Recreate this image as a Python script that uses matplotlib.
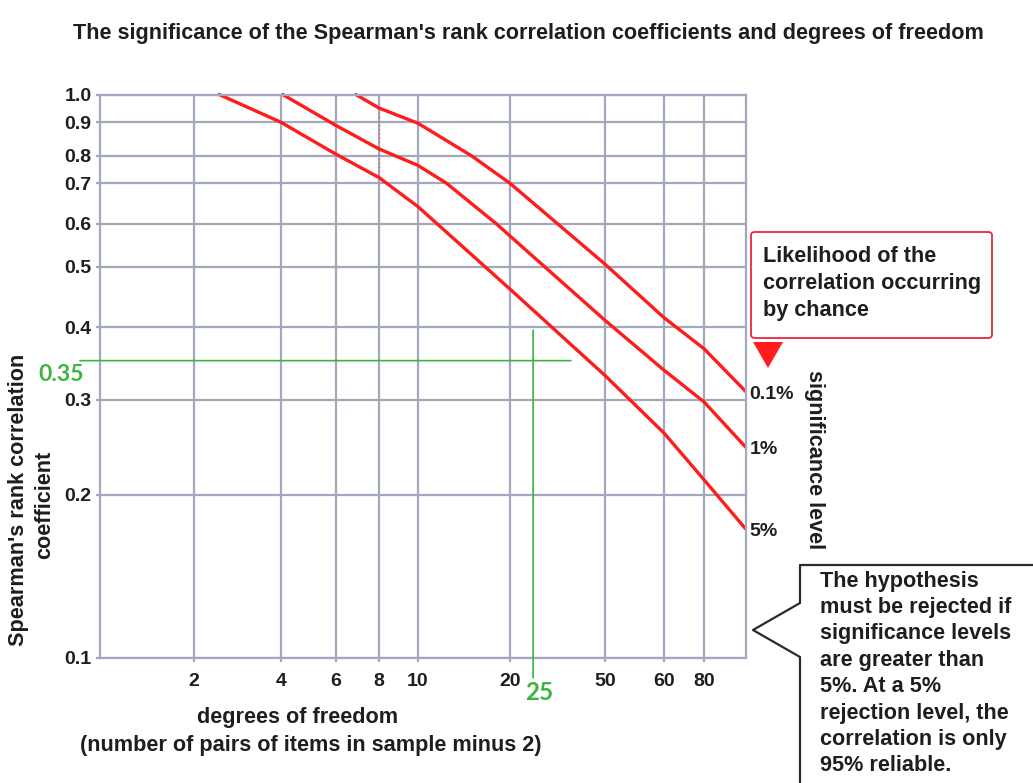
import numpy as np
import matplotlib
matplotlib.use("Agg")
import matplotlib.pyplot as plt
from matplotlib.lines import Line2D
from matplotlib.patches import FancyBboxPatch, Polygon
from matplotlib.ticker import NullLocator

# ---------------- data ----------------
title = "The significance of the Spearman's rank correlation coefficients and degrees of freedom"
x_ticks = [2, 4, 6, 8, 10, 20, 50, 60, 80]
x_tick_labels = ["2", "4", "6", "8", "10", "20", "50", "60", "80"]
x_range = [1, 100]
y_ticks = [0.1, 0.2, 0.3, 0.4, 0.5, 0.6, 0.7, 0.8, 0.9, 1.0]
y_tick_labels = ["0.1", "0.2", "0.3", "0.4", "0.5", "0.6", "0.7", "0.8", "0.9", "1.0"]
y_range = [0.1, 1.0]

series_names = ["0.1%", "1%", "5%"]
dof_01 = [6.85, 8, 10, 15, 20, 50, 60, 80, 100]
r_01 = [1.0, 0.95, 0.897, 0.80, 0.70, 0.505, 0.414, 0.367, 0.31]
dof_1 = [4.05, 6, 8, 10, 12.4, 18, 20, 50, 60, 80, 100]
r_1 = [1.0, 0.89, 0.82, 0.764, 0.70, 0.60, 0.569, 0.41, 0.337, 0.297, 0.245]
dof_5 = [2.45, 4, 6, 8, 10, 20, 50, 60, 80, 100]
r_5 = [1.0, 0.90, 0.805, 0.72, 0.64, 0.46, 0.33, 0.26, 0.213, 0.173]

example_dof = 25
example_r = 0.35

ylabel_lines = ["Spearman's rank correlation", "coefficient"]
xlabel_lines = ["degrees of freedom", "(number of pairs of items in sample minus 2)"]
side_label = "significance level"
box_text = ["Likelihood of the", "correlation occurring", "by chance"]
note_text = ["The hypothesis", "must be rejected if", "significance levels",
             "are greater than", "5%. At a 5%", "rejection level, the",
             "correlation is only", "95% reliable."]

# ---------------- layout: hand-drawn non-uniform axes ----------------
W, H = 1033, 783
X_ANCHOR_VALS = [1, 2, 4, 6, 8, 10, 20, 50, 60, 80, 100]
X_ANCHOR_PX = [100, 193.5, 281, 336, 379, 418, 510, 605, 664, 704, 745.5]
Y_ANCHOR_VALS = [0.1, 0.2, 0.3, 0.4, 0.5, 0.6, 0.7, 0.8, 0.9, 1.0]
Y_ANCHOR_PX = [658, 494.5, 399.5, 327, 266.5, 223.5, 183.3, 156, 122.3, 94.5]


def extrap(v, xs, ys):
    v = np.asarray(v, float)
    xs = np.asarray(xs, float)
    ys = np.asarray(ys, float)
    out = np.interp(v, xs, ys)
    s0 = (ys[1] - ys[0]) / (xs[1] - xs[0])
    s1 = (ys[-1] - ys[-2]) / (xs[-1] - xs[-2])
    out = np.where(v < xs[0], ys[0] + (v - xs[0]) * s0, out)
    out = np.where(v > xs[-1], ys[-1] + (v - xs[-1]) * s1, out)
    return out


def make_scale(vals, px, invert):
    lv = np.log10(np.asarray(vals, float))
    p = np.asarray(px, float)
    if invert:
        p = -p

    def fwd(v):
        v = np.asarray(v, float)
        with np.errstate(all="ignore"):
            lvv = np.log10(np.where(v > 0, v, 1e-12))
        return extrap(lvv, lv, p)

    def inv(q):
        return 10 ** extrap(np.asarray(q, float), p, lv)

    return fwd, inv


def fx(px):
    return px / W


def fy(py):
    return 1 - py / H


plt.rcParams["font.family"] = ["Liberation Sans", "DejaVu Sans"]
plt.rcParams["font.weight"] = "bold"

GRID = "#a3a8bf"
RED = "#ff1c1c"
GREEN = "#3db43d"
TXT = "#1e1e1e"
FS_NUM = 14
FS = 15.6

fig = plt.figure(figsize=(W / 100, H / 100), dpi=100)
fig.patch.set_facecolor("white")
ax = fig.add_axes([fx(X_ANCHOR_PX[0]), fy(Y_ANCHOR_PX[0]),
                   fx(X_ANCHOR_PX[-1]) - fx(X_ANCHOR_PX[0]),
                   fy(Y_ANCHOR_PX[-1]) - fy(Y_ANCHOR_PX[0])])

ax.set_xscale("function", functions=make_scale(X_ANCHOR_VALS, X_ANCHOR_PX, False))
ax.set_yscale("function", functions=make_scale(Y_ANCHOR_VALS, Y_ANCHOR_PX, True))
ax.set_xlim(*x_range)
ax.set_ylim(*y_range)

ax.set_xticks(x_ticks)
ax.set_xticklabels(x_tick_labels)
ax.set_yticks(y_ticks)
ax.set_yticklabels(y_tick_labels)
ax.xaxis.set_minor_locator(NullLocator())
ax.yaxis.set_minor_locator(NullLocator())
ax.grid(True, which="major", color=GRID, lw=1.6)
ax.set_axisbelow(True)
for s in ax.spines.values():
    s.set_color(GRID)
    s.set_linewidth(1.6)
ax.tick_params(axis="both", direction="out", length=3, width=1.6, color=GRID,
               labelsize=FS_NUM, labelcolor=TXT)
ax.tick_params(axis="x", pad=8)
ax.tick_params(axis="y", pad=3)

# faint dotted construction line visible in the source
ax.plot([8, 8], [r_01[1], r_5[3]], color=RED, lw=1, ls=(0, (1, 2)), alpha=0.5)

for d, r in ((dof_01, r_01), (dof_1, r_1), (dof_5, r_5)):
    ax.plot(d, r, color=RED, lw=2.4, solid_capstyle="round",
            solid_joinstyle="round", clip_on=False)

for name, d, r in zip(series_names, (dof_01, dof_1, dof_5), (r_01, r_1, r_5)):
    ax.annotate(name, xy=(d[-1], r[-1]), xytext=(3, -2), textcoords="offset points",
                ha="left", va="center", fontsize=FS_NUM, color=TXT,
                annotation_clip=False)

# green worked example
ax.annotate("", xy=(36, example_r), xycoords="data",
            xytext=(-0.031, example_r), textcoords=("axes fraction", "data"),
            arrowprops=dict(arrowstyle="-", color=GREEN, lw=1.2,
                            shrinkA=0, shrinkB=0))
ax.annotate("", xy=(example_dof, 0.395), xycoords="data",
            xytext=(example_dof, -0.035), textcoords=("data", "axes fraction"),
            arrowprops=dict(arrowstyle="-", color=GREEN, lw=1.2,
                            shrinkA=0, shrinkB=0))
fig.text(fx(61.5), fy(374.5), f"{example_r:.2f}", family=["Lato", "DejaVu Sans"],
         weight="bold", fontsize=16.5, color=GREEN, ha="center", va="center")
fig.text(fx(539.5), fy(693), f"{example_dof}", family=["Lato", "DejaVu Sans"],
         weight="bold", fontsize=17.5, color=GREEN, ha="center", va="center")

# titles / labels
fig.text(fx(528), fy(33), title, ha="center", va="center", fontsize=FS, color=TXT)
fig.text(fx(19), fy(500), ylabel_lines[0], rotation=90, ha="center", va="center",
         fontsize=FS, color=TXT)
fig.text(fx(45), fy(505), ylabel_lines[1], rotation=90, ha="center", va="center",
         fontsize=FS, color=TXT)
fig.text(fx(298), fy(718), xlabel_lines[0], ha="center", va="center",
         fontsize=FS, color=TXT)
fig.text(fx(311), fy(745), xlabel_lines[1], ha="center", va="center",
         fontsize=FS, color=TXT)
fig.text(fx(814), fy(460), side_label, rotation=-90, ha="center",
         va="center", fontsize=FS, color=TXT)

# red explanatory box
fig.patches.append(FancyBboxPatch((fx(751), fy(338)), fx(992) - fx(751),
                                  fy(232) - fy(338),
                                  boxstyle="round,pad=0,rounding_size=0.004",
                                  transform=fig.transFigure, fc="white",
                                  ec="#e8283c", lw=1.3))
for i, line in enumerate(box_text):
    fig.text(fx(763), fy(257 + 26.7 * i), line, ha="left", va="center",
             fontsize=FS, color=TXT)
fig.patches.append(Polygon([(fx(753), fy(342)), (fx(783), fy(342)), (fx(768), fy(368))],
                           closed=True, transform=fig.transFigure, fc=RED, ec="none"))

# black callout
call_px = [(1040, 565), (800, 565), (800, 603), (753, 630), (800, 657), (800, 790)]
fig.lines.append(Line2D([fx(p[0]) for p in call_px], [fy(p[1]) for p in call_px],
                        transform=fig.transFigure, color="#2a2a2a", lw=1.6))
for i, line in enumerate(note_text):
    fig.text(fx(820), fy(581 + 26.4 * i), line, ha="left", va="center",
             fontsize=FS, color=TXT)

fig.savefig("out.png", dpi=100, facecolor="white")
